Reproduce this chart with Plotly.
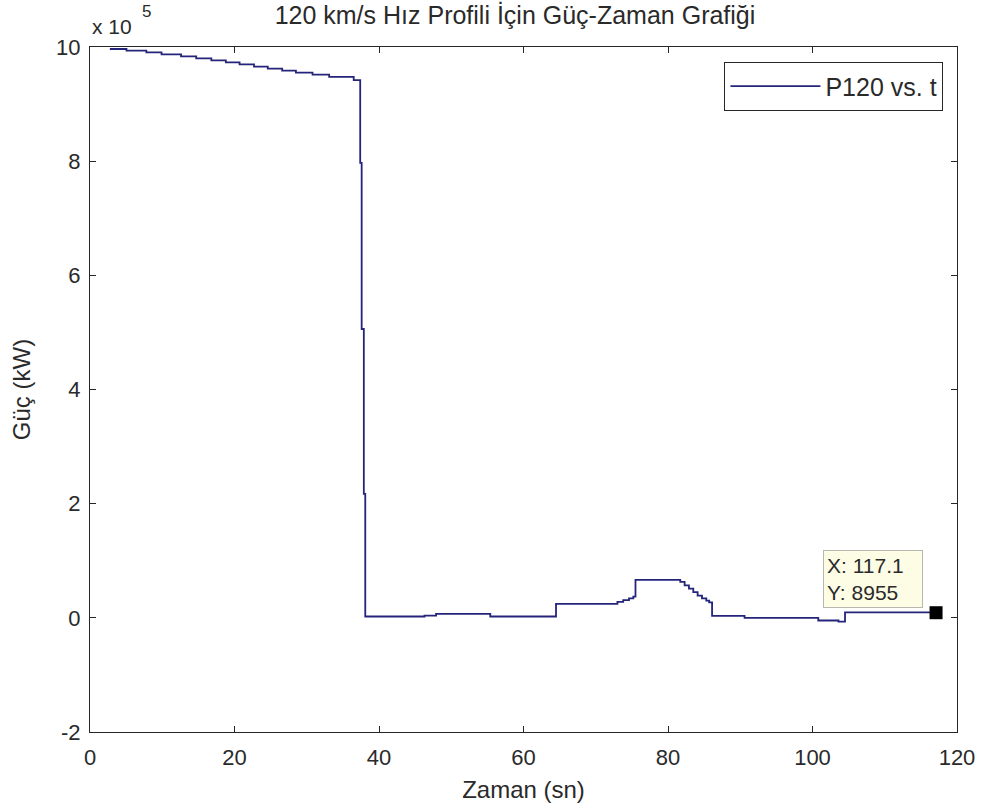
import plotly.graph_objects as go

# Step data: each point is (segment start time [s], power [kW]); value holds until the next time
t_sn = [2.75, 5.05, 7.8, 9.9, 12.6, 14.7, 16.8, 18.8, 20.7, 22.7, 24.6, 26.6, 28.5,
        30.8, 33.1, 36.5, 37.4, 37.6, 37.9, 38.1, 46.3, 47.9, 55.4, 64.5,
        73.0, 73.8, 74.6, 75.2, 75.5, 81.7, 82.3, 82.9, 83.5, 84.1, 84.7, 85.3,
        85.7, 86.1, 90.6, 100.8, 103.6, 104.5, 117.1]
p_kw = [996500, 993500, 990700, 987200, 983700, 980200, 976700, 973200, 969700,
        965500, 962000, 958500, 955000, 951500, 947500, 942000, 797000, 506000,
        217000, 2300, 4000, 7000, 2300, 24500,
        28000, 31000, 34000, 37000, 66500, 63000, 57000, 51000, 45000, 39000, 34000, 30000,
        27000, 3500, 0, -4700, -6500, 9500, 8955]

tip_x = 117.1
tip_y = 8955

x_ticks = [0, 20, 40, 60, 80, 100, 120]
y_ticks = [-2e5, 0, 2e5, 4e5, 6e5, 8e5, 10e5]
y_ticktext = ["-2", "0", "2", "4", "6", "8", "10"]

FONT = "Liberation Sans, Arial, sans-serif"
TXT = "#2a2a2a"
fig = go.Figure()
fig.add_trace(go.Scatter(
    x=t_sn, y=p_kw, mode="lines", line=dict(color="#24247a", width=1.8, shape="hv"),
    name="P120 vs. t"))
fig.add_trace(go.Scatter(
    x=[tip_x], y=[tip_y], mode="markers",
    marker=dict(symbol="square", size=13, color="black"), showlegend=False))

axis_common = dict(showline=True, linecolor="#262626", linewidth=1.3, mirror="ticks",
                   ticks="inside", ticklen=6, tickcolor="#262626", showgrid=False,
                   zeroline=False, tickfont=dict(family=FONT, size=22, color=TXT))
fig.update_xaxes(range=[0, 120], tickvals=x_ticks, ticklabelstandoff=5,
                 title=dict(text="Zaman (sn)", font=dict(family=FONT, size=24, color=TXT), standoff=12),
                 **axis_common)
fig.update_yaxes(range=[-2e5, 10e5], tickvals=y_ticks, ticktext=y_ticktext, ticklabelstandoff=4,
                 title=dict(text="Güç (kW)", font=dict(family=FONT, size=24, color=TXT), standoff=18),
                 **axis_common)

fig.add_annotation(xref="paper", yref="paper", x=0.0, y=1.01, xanchor="left", yanchor="bottom",
                   text="x 10", showarrow=False, font=dict(family=FONT, size=21, color=TXT))
fig.add_annotation(xref="paper", yref="paper", x=0.058, y=1.035, xanchor="left", yanchor="bottom",
                   text="5", showarrow=False, font=dict(family=FONT, size=17, color=TXT))
fig.add_annotation(xref="paper", yref="paper", x=0.845, y=0.265, xanchor="left", yanchor="top",
                   text="X: 117.1<br>Y: 8955", align="left", showarrow=False, width=92,
                   bgcolor="#fdfde6", bordercolor="#b8b8b0", borderwidth=1, borderpad=3,
                   font=dict(family=FONT, size=21, color=TXT))

fig.update_layout(
    width=987, height=811,
    margin=dict(l=90, r=25, t=47, b=79),
    paper_bgcolor="white", plot_bgcolor="white",
    title=dict(text="120 km/s Hız Profili İçin Güç-Zaman Grafiği", x=515/987, xanchor="center",
               y=1 - 15/811, yanchor="middle", font=dict(family=FONT, size=25, color=TXT)),
    legend=dict(x=0.984, y=0.978, xanchor="right", yanchor="top", bgcolor="white",
                bordercolor="#262626", borderwidth=1.3, itemwidth=90,
                font=dict(family=FONT, size=25, color=TXT)),
    showlegend=True,
)
fig.write_html("out.html")
